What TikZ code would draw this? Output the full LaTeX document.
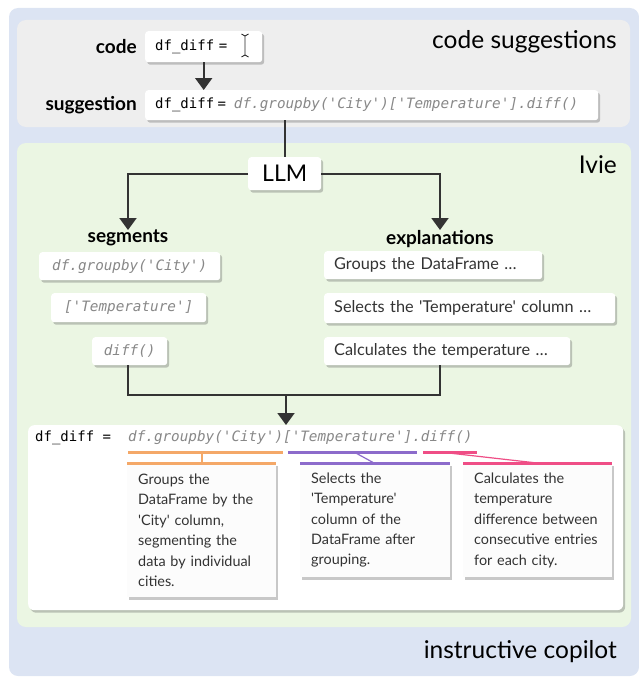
\documentclass[tikz,border=0pt]{standalone}
\usepackage{fontspec}
\newfontfamily\lato{Lato}
\setmonofont{DejaVu Sans Mono}
\usetikzlibrary{arrows.meta,shadows,positioning}
\definecolor{outerbg}{HTML}{DCE4F3}
\definecolor{graybg}{HTML}{EEEEEE}
\definecolor{greenbg}{HTML}{EBF6E3}
\definecolor{linec}{HTML}{333333}
\definecolor{codegray}{HTML}{888888}
\definecolor{orng}{HTML}{F4A868}
\definecolor{purp}{HTML}{8C6BCB}
\definecolor{pnk}{HTML}{EF4E86}
\definecolor{cardbg}{HTML}{FCFCFC}
\definecolor{txt}{HTML}{333333}
\begin{document}
\begin{tikzpicture}[x=1pt,y=-1pt,font=\lato,
  bx/.style={fill=white, rounded corners=3pt, inner ysep=0pt, inner xsep=10pt,
    drop shadow={shadow xshift=2pt, shadow yshift=-2.5pt, opacity=0.3, fill=black!70}},
  card/.style={fill=cardbg, inner xsep=11pt, inner ysep=8pt, anchor=north west, align=left,
    font=\lato\fontsize{14.4}{20.4}\selectfont, text=txt,
    drop shadow={shadow xshift=2pt, shadow yshift=-3pt, opacity=0.3, fill=black!70}},
  blab/.style={font=\lato\bfseries\fontsize{19}{22}\selectfont, inner sep=0pt},
  big/.style={font=\lato\fontsize{24.5}{28}\selectfont, inner sep=0pt, anchor=east},
  conn/.style={draw=linec, line width=2pt},
  arr/.style={conn, -{Triangle[width=17pt,length=12pt]}},
  mono/.style={font=\ttfamily\fontsize{14}{16}\selectfont},
  monoit/.style={font=\ttfamily\itshape\fontsize{14.3}{16}\selectfont, text=codegray},
  uline/.style={line width=3pt},
]
\useasboundingbox (0,0) rectangle (639,677);
% panels
\fill[outerbg, rounded corners=9pt] (9,8) rectangle (639,676);
\fill[graybg, rounded corners=9pt] (17,20) rectangle (630,127);
\fill[greenbg, rounded corners=9pt] (17,143) rectangle (631,627);
\node[big] (t1) at (617,42) {code suggestions};
\node[big] (t2) at (617,165) {Ivie};
\node[big] (t3) at (617,652) {instructive copilot};

% code & suggestion
\node[bx, minimum width=117pt, minimum height=31pt, anchor=north west, text width=97pt, align=left, mono] (code) at (145,31) {df\_diff =};
\draw[black!85, line width=0.9pt] (241.5,34) to[bend left=20] (245,36) to[bend left=20] (248.5,34)
  (245,36) -- (245,55) (241.5,57) to[bend right=20] (245,55) to[bend right=20] (248.5,57);
\node[bx, minimum width=453pt, minimum height=30pt, anchor=north west, text width=433pt, align=left] (sugg) at (145,90)
  {{\ttfamily\fontsize{14}{16}\selectfont df\_diff =}\hspace{8pt}{\ttfamily\itshape\fontsize{14.3}{16}\selectfont\color{codegray}df.groupby('City')['Temperature'].diff()}};
\node[blab, left=8pt of code] (codelab) {code};
\node[blab, left=8pt of sugg] (sugglab) {suggestion};
\draw[arr] (code.south) -- (sugg.north -| code.south);

% LLM
\node[bx, minimum width=73pt, minimum height=33pt, anchor=north west, font=\lato\fontsize{23}{26}\selectfont] (llm) at (248,157) {LLM};
\draw[conn] (llm.north |- sugg.south) -- (llm.north);

\node[blab, anchor=north] (seglab) at (128,230) {segments};
\node[blab, anchor=north] (explab) at (440,230) {explanations};
\draw[arr] (llm.west) -| (seglab.north);
\draw[arr] (llm.east) -| (explab.north);

% segments
\node[bx, minimum width=181pt, minimum height=28pt, anchor=north west, monoit] (s1) at (39,252) {df.groupby('City')};
\node[bx, minimum width=155pt, minimum height=29pt, anchor=north west, monoit] (s2) at (51,293) {['Temperature']};
\node[bx, minimum width=75pt, minimum height=28pt, anchor=north west, monoit] (s3) at (92,337) {diff()};

% explanations
\begin{scope}[every node/.style={bx, anchor=north west, align=left, font=\lato\fontsize{16.3}{19}\selectfont, text=txt}]
\node[minimum width=218pt, minimum height=28pt, text width=198pt] (e1) at (324,251) {Groups the DataFrame …};
\node[minimum width=291pt, minimum height=30pt, text width=271pt] (e2) at (324,293) {Selects the 'Temperature' column …};
\node[minimum width=246pt, minimum height=28pt, text width=226pt] (e3) at (324,337) {Calculates the temperature …};
\end{scope}

\coordinate (j) at (286,395);
\draw[conn, line join=miter] (s3.south -| seglab) -- (seglab |- j) -- (explab |- j) -- (e3.south -| explab);

% bottom box
\node[bx, rounded corners=6pt, minimum width=595pt, minimum height=185pt, anchor=north west] (res) at (28,425) {};
\draw[arr] (j) -- (res.north -| j);
\node[mono, anchor=west, inner sep=0pt] (lhs) at (35,438) {df\_diff =};
\node[monoit, anchor=west, inner sep=0pt] (rhs) at (128,438) {df.groupby('City')['Temperature'].diff()};

% cards
\node[card, text width=127pt, minimum height=134pt] (c1) at (127,463) {Groups the\\DataFrame by the\\'City' column,\\segmenting the\\data by individual\\cities.};
\node[card, text width=128pt, minimum height=114pt] (c2) at (300,463) {Selects the\\'Temperature'\\column of the\\DataFrame after\\grouping.};
\node[card, text width=127pt, minimum height=114pt] (c3) at (463,463) {Calculates the\\temperature\\difference between\\consecutive entries\\for each city.};

% underlines
\coordinate (o1) at (128,452); \coordinate (o2) at (283,452);
\coordinate (p1) at (288,452); \coordinate (p2) at (417,452);
\coordinate (k1) at (423,452); \coordinate (k2) at (477,452);
\draw[orng, uline] (o1) -- (o2);
\draw[purp, uline] (p1) -- (p2);
\draw[pnk, uline] (k1) -- (k2);
\draw[orng, uline] (c1.north west) -- (c1.north east);
\draw[purp, uline] (c2.north west) -- (c2.north east);
\draw[pnk, uline] (c3.north west) -- (c3.north east);
\draw[orng, line width=1.2pt] (202,452) -- (c1.north -| 202,0);
\draw[purp, line width=1.2pt] (354,452) -- (374,463);
\draw[pnk, line width=1.2pt] (440,452) -- (537,463);
\end{tikzpicture}
\end{document}
